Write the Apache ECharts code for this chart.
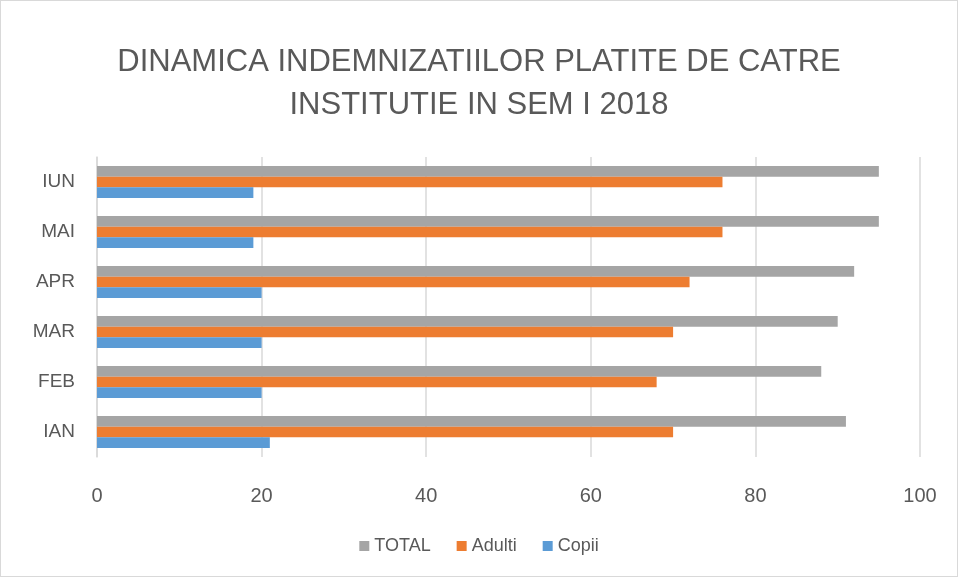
<!DOCTYPE html>
<html><head><meta charset="utf-8">
<script src="https://cdn.jsdelivr.net/npm/echarts@6/dist/echarts.min.js"></script>
<style>html,body{margin:0;padding:0;background:#fff}#c{width:958px;height:577px;box-sizing:border-box;border:1px solid #d9d9d9}</style>
</head><body><div id="c"></div>
<script>
const months = ['IAN','FEB','MAR','APR','MAI','IUN'];
const total = [91, 88, 90, 92, 95, 95];
const adulti = [70, 68, 70, 72, 76, 76];
const copii = [21, 20, 20, 20, 19, 19];
const xTicks = {min: 0, max: 100, interval: 20};

const chart = echarts.init(document.getElementById('c'));
const font = 'Liberation Sans, Open Sans, sans-serif';
chart.setOption({
  animation: false,
  title: {
    text: 'DINAMICA INDEMNIZATIILOR PLATITE DE CATRE\nINSTITUTIE IN SEM I 2018',
    left: 'center', top: 35,
    textStyle: {fontFamily: font, fontSize: 31, fontWeight: 'normal', color: '#595959', lineHeight: 43}
  },
  legend: {
    data: ['TOTAL','Adulti','Copii'],
    bottom: 16, left: 'center', itemWidth: 10, itemHeight: 10, itemGap: 26,
    icon: 'rect',
    textStyle: {fontFamily: font, fontSize: 18, color: '#595959'}
  },
  grid: {left: 96, right: 37, top: 156, bottom: 119, containLabel: false},
  xAxis: {
    type: 'value', min: xTicks.min, max: xTicks.max, interval: xTicks.interval,
    axisLine: {show: false}, axisTick: {show: false},
    splitLine: {lineStyle: {color: '#d9d9d9', width: 1.5}},
    axisLabel: {fontFamily: font, fontSize: 20, color: '#595959', margin: 29}
  },
  yAxis: {
    type: 'category', data: months,
    axisLine: {show: true, lineStyle: {color: '#d9d9d9', width: 1.5}},
    axisTick: {show: false},
    axisLabel: {fontFamily: font, fontSize: 19, color: '#595959', margin: 22}
  },
  series: [
    {name: 'TOTAL', type: 'bar', data: total, itemStyle: {color: '#a5a5a5'}, barGap: '0%', barCategoryGap: '36%'},
    {name: 'Adulti', type: 'bar', data: adulti, itemStyle: {color: '#ed7d31'}, barGap: '0%', barCategoryGap: '36%'},
    {name: 'Copii', type: 'bar', data: copii, itemStyle: {color: '#5b9bd5'}, barGap: '0%', barCategoryGap: '36%'}
  ]
});
</script></body></html>
